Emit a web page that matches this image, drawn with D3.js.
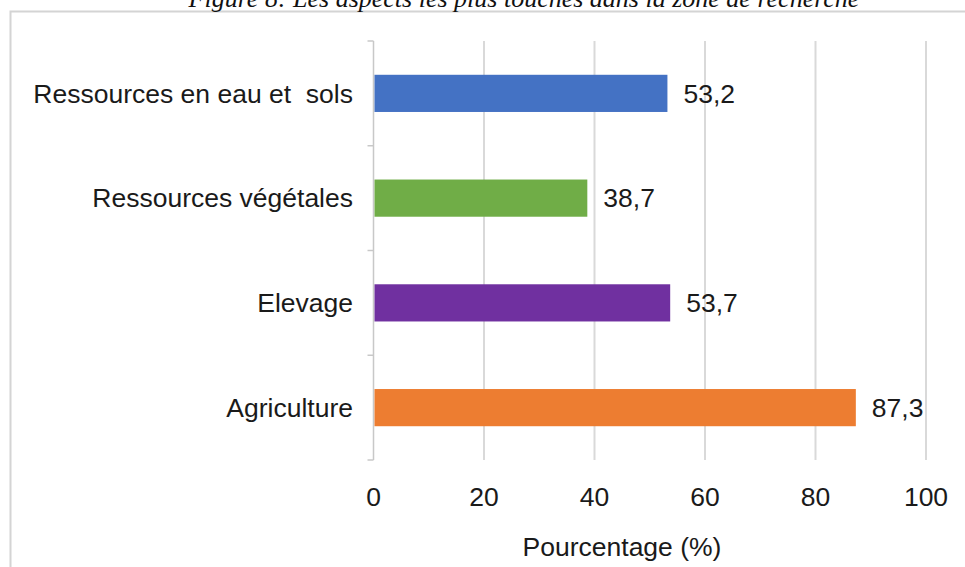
<!DOCTYPE html>
<html>
<head>
<meta charset="utf-8">
<script src="https://cdn.jsdelivr.net/npm/d3@7"></script>
<style>
  html, body { margin: 0; padding: 0; background: #fff; }
  svg { display: block; }
  text { white-space: pre; }
</style>
</head>
<body>
<svg id="chart" width="965" height="567"></svg>
<script>
const titleText = "Figure 8: Les aspects les plus touchés dans la zone de recherche";
const categories = ["Ressources en eau et  sols", "Ressources végétales", "Elevage", "Agriculture"];
const values = [53.2, 38.7, 53.7, 87.3];
const valueLabels = ["53,2", "38,7", "53,7", "87,3"];
const barColors = ["#4472C4", "#70AD47", "#7030A0", "#ED7D31"];
const xTicks = [0, 20, 40, 60, 80, 100];
const xAxisTitle = "Pourcentage (%)";

const svg = d3.select("#chart");
const font = "'Liberation Sans', Arial, sans-serif";
const fs = 26.5;

// Frame
svg.append("rect")
  .attr("x", 10.5).attr("y", 11.5)
  .attr("width", 1000).attr("height", 600)
  .attr("fill", "#fff")
  .attr("stroke", "#d4d4d4").attr("stroke-width", 2);

// Title (partially cut at top)
svg.append("text")
  .attr("x", 524).attr("y", 7)
  .attr("text-anchor", "middle")
  .attr("font-family", "'Liberation Serif', 'DejaVu Serif', serif")
  .attr("font-style", "italic")
  .attr("font-size", 26)
  .attr("fill", "#111")
  .text(titleText);

const margin = { left: 373.5, right: 926, top: 41, bottom: 460 };

const x = d3.scaleLinear().domain([0, 100]).range([margin.left, margin.right]);
const y = d3.scaleBand().domain(categories).range([margin.top, margin.bottom]).paddingInner(0.645).paddingOuter(0.3225);
const yOuter = d3.scaleBand().domain(categories).range([margin.top, margin.bottom]);

// Gridlines
svg.append("g")
  .selectAll("line")
  .data(xTicks.filter(d => d > 0))
  .join("line")
  .attr("x1", d => x(d)).attr("x2", d => x(d))
  .attr("y1", margin.top).attr("y2", margin.bottom)
  .attr("stroke", "#d9d9d9").attr("stroke-width", 2);

// Y axis line and ticks at band boundaries
svg.append("line")
  .attr("x1", x(0)).attr("x2", x(0))
  .attr("y1", margin.top).attr("y2", margin.bottom)
  .attr("stroke", "#c8c8c8").attr("stroke-width", 1.5);

const boundaries = categories.map(c => yOuter(c)).concat([margin.bottom]);
svg.append("g")
  .selectAll("line")
  .data(boundaries)
  .join("line")
  .attr("x1", x(0) - 6).attr("x2", x(0))
  .attr("y1", d => d).attr("y2", d => d)
  .attr("stroke", "#c8c8c8").attr("stroke-width", 1.5);

// Bars
svg.append("g")
  .selectAll("rect")
  .data(categories)
  .join("rect")
  .attr("x", x(0) + 1)
  .attr("y", d => y(d))
  .attr("width", (d, i) => x(values[i]) - x(0) - 1)
  .attr("height", y.bandwidth())
  .attr("fill", (d, i) => barColors[i]);

// Value labels
svg.append("g")
  .selectAll("text")
  .data(categories)
  .join("text")
  .attr("x", (d, i) => x(values[i]) + 16)
  .attr("y", d => y(d) + y.bandwidth() / 2)
  .attr("dy", "0.35em")
  .attr("font-family", font)
  .attr("font-size", fs)
  .attr("fill", "#1a1a1a")
  .text((d, i) => valueLabels[i]);

// Category labels
svg.append("g")
  .selectAll("text")
  .data(categories)
  .join("text")
  .attr("x", 353)
  .attr("y", d => yOuter(d) + yOuter.bandwidth() / 2)
  .attr("dy", "0.35em")
  .attr("text-anchor", "end")
  .attr("font-family", font)
  .attr("font-size", fs)
  .attr("fill", "#1a1a1a")
  .text(d => d);

// X tick labels
svg.append("g")
  .selectAll("text")
  .data(xTicks)
  .join("text")
  .attr("x", d => x(d))
  .attr("y", 497)
  .attr("dy", "0.35em")
  .attr("text-anchor", "middle")
  .attr("font-family", font)
  .attr("font-size", fs)
  .attr("fill", "#1a1a1a")
  .text(d => d);

// X axis title
svg.append("text")
  .attr("x", 622).attr("y", 547)
  .attr("dy", "0.35em")
  .attr("text-anchor", "middle")
  .attr("font-family", font)
  .attr("font-size", fs)
  .attr("fill", "#1a1a1a")
  .text(xAxisTitle);
</script>
</body>
</html>
